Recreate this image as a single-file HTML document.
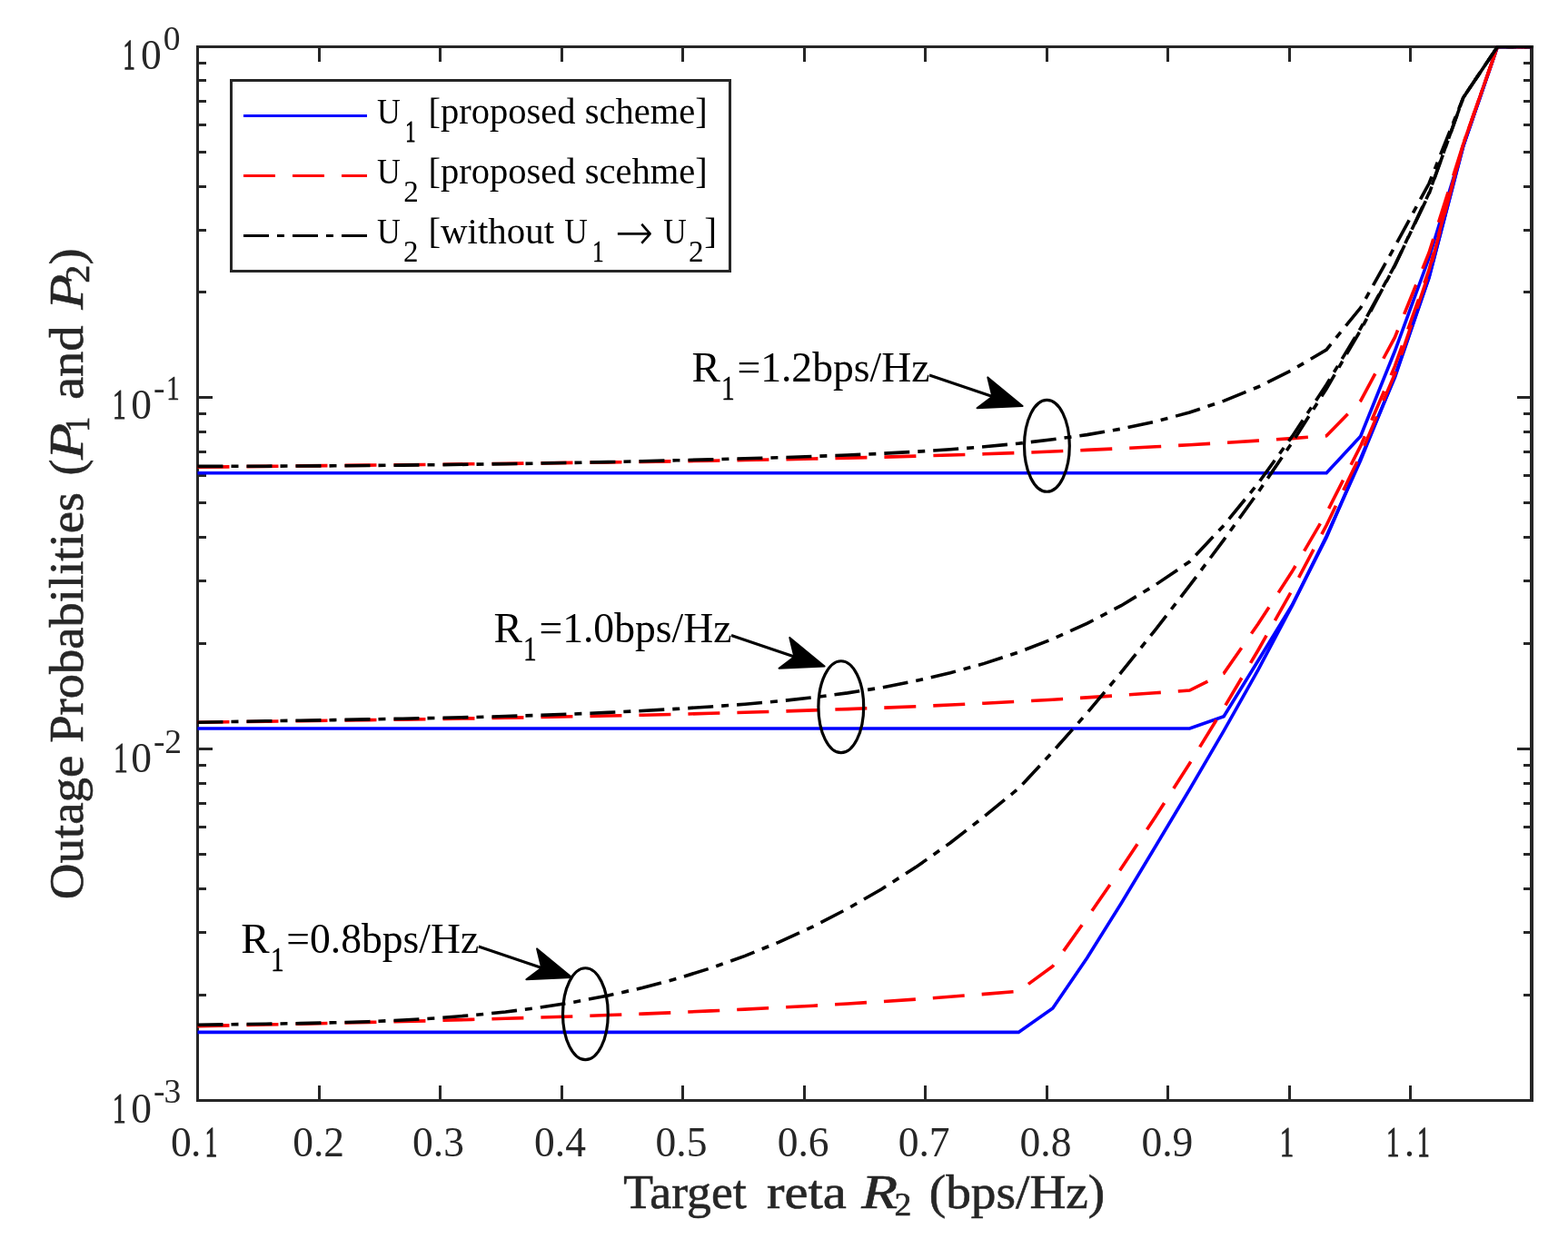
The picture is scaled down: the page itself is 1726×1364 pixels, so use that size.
<!DOCTYPE html>
<html><head><meta charset="utf-8"><title>Outage Probabilities</title>
<style>html,body{margin:0;padding:0;background:#fff;overflow:hidden;width:1726px;height:1364px;}svg{display:block;}</style>
</head><body>
<svg width="1726" height="1364" viewBox="0 0 1726 1364" font-family='"Liberation Serif", "DejaVu Serif", serif'>
<rect width="1726" height="1364" fill="#fff"/>
<defs><clipPath id="pc"><rect x="216" y="50" width="1472" height="1163"/></clipPath></defs>
<rect x="216" y="50" width="3" height="1163" fill="#262626"/>
<rect x="1684" y="50" width="4" height="1163" fill="#262626"/>
<rect x="216" y="50" width="1472" height="3" fill="#262626"/>
<rect x="216" y="1210" width="1472" height="3" fill="#262626"/>
<rect x="350" y="1195" width="3" height="15" fill="#262626"/>
<rect x="350" y="53" width="3" height="15" fill="#262626"/>
<rect x="483" y="1195" width="3" height="15" fill="#262626"/>
<rect x="483" y="53" width="3" height="15" fill="#262626"/>
<rect x="617" y="1195" width="3" height="15" fill="#262626"/>
<rect x="617" y="53" width="3" height="15" fill="#262626"/>
<rect x="750" y="1195" width="3" height="15" fill="#262626"/>
<rect x="750" y="53" width="3" height="15" fill="#262626"/>
<rect x="884" y="1195" width="3" height="15" fill="#262626"/>
<rect x="884" y="53" width="3" height="15" fill="#262626"/>
<rect x="1017" y="1195" width="3" height="15" fill="#262626"/>
<rect x="1017" y="53" width="3" height="15" fill="#262626"/>
<rect x="1151" y="1195" width="3" height="15" fill="#262626"/>
<rect x="1151" y="53" width="3" height="15" fill="#262626"/>
<rect x="1284" y="1195" width="3" height="15" fill="#262626"/>
<rect x="1284" y="53" width="3" height="15" fill="#262626"/>
<rect x="1418" y="1195" width="3" height="15" fill="#262626"/>
<rect x="1418" y="53" width="3" height="15" fill="#262626"/>
<rect x="1551" y="1195" width="3" height="15" fill="#262626"/>
<rect x="1551" y="53" width="3" height="15" fill="#262626"/>
<rect x="219" y="320" width="8" height="3" fill="#262626"/>
<rect x="1677" y="320" width="7" height="3" fill="#262626"/>
<rect x="219" y="252" width="8" height="3" fill="#262626"/>
<rect x="1677" y="252" width="7" height="3" fill="#262626"/>
<rect x="219" y="204" width="8" height="3" fill="#262626"/>
<rect x="1677" y="204" width="7" height="3" fill="#262626"/>
<rect x="219" y="166" width="8" height="3" fill="#262626"/>
<rect x="1677" y="166" width="7" height="3" fill="#262626"/>
<rect x="219" y="136" width="8" height="3" fill="#262626"/>
<rect x="1677" y="136" width="7" height="3" fill="#262626"/>
<rect x="219" y="110" width="8" height="3" fill="#262626"/>
<rect x="1677" y="110" width="7" height="3" fill="#262626"/>
<rect x="219" y="87" width="8" height="3" fill="#262626"/>
<rect x="1677" y="87" width="7" height="3" fill="#262626"/>
<rect x="219" y="68" width="8" height="3" fill="#262626"/>
<rect x="1677" y="68" width="7" height="3" fill="#262626"/>
<rect x="219" y="436" width="15" height="3" fill="#262626"/>
<rect x="1670" y="436" width="14" height="3" fill="#262626"/>
<rect x="219" y="707" width="8" height="3" fill="#262626"/>
<rect x="1677" y="707" width="7" height="3" fill="#262626"/>
<rect x="219" y="638" width="8" height="3" fill="#262626"/>
<rect x="1677" y="638" width="7" height="3" fill="#262626"/>
<rect x="219" y="590" width="8" height="3" fill="#262626"/>
<rect x="1677" y="590" width="7" height="3" fill="#262626"/>
<rect x="219" y="552" width="8" height="3" fill="#262626"/>
<rect x="1677" y="552" width="7" height="3" fill="#262626"/>
<rect x="219" y="522" width="8" height="3" fill="#262626"/>
<rect x="1677" y="522" width="7" height="3" fill="#262626"/>
<rect x="219" y="496" width="8" height="3" fill="#262626"/>
<rect x="1677" y="496" width="7" height="3" fill="#262626"/>
<rect x="219" y="474" width="8" height="3" fill="#262626"/>
<rect x="1677" y="474" width="7" height="3" fill="#262626"/>
<rect x="219" y="454" width="8" height="3" fill="#262626"/>
<rect x="1677" y="454" width="7" height="3" fill="#262626"/>
<rect x="219" y="823" width="15" height="3" fill="#262626"/>
<rect x="1670" y="823" width="14" height="3" fill="#262626"/>
<rect x="219" y="1094" width="8" height="3" fill="#262626"/>
<rect x="1677" y="1094" width="7" height="3" fill="#262626"/>
<rect x="219" y="1025" width="8" height="3" fill="#262626"/>
<rect x="1677" y="1025" width="7" height="3" fill="#262626"/>
<rect x="219" y="977" width="8" height="3" fill="#262626"/>
<rect x="1677" y="977" width="7" height="3" fill="#262626"/>
<rect x="219" y="939" width="8" height="3" fill="#262626"/>
<rect x="1677" y="939" width="7" height="3" fill="#262626"/>
<rect x="219" y="909" width="8" height="3" fill="#262626"/>
<rect x="1677" y="909" width="7" height="3" fill="#262626"/>
<rect x="219" y="883" width="8" height="3" fill="#262626"/>
<rect x="1677" y="883" width="7" height="3" fill="#262626"/>
<rect x="219" y="861" width="8" height="3" fill="#262626"/>
<rect x="1677" y="861" width="7" height="3" fill="#262626"/>
<rect x="219" y="841" width="8" height="3" fill="#262626"/>
<rect x="1677" y="841" width="7" height="3" fill="#262626"/>
<g clip-path="url(#pc)">
<polyline points="217.5,520.8 255.2,520.8 292.8,520.8 330.5,520.8 368.1,520.8 405.8,520.8 443.4,520.8 481.1,520.8 518.7,520.8 556.4,520.8 594.0,520.8 631.7,520.8 669.3,520.8 707.0,520.8 744.7,520.8 782.3,520.8 820.0,520.8 857.6,520.8 895.3,520.8 932.9,520.8 970.6,520.8 1008.2,520.8 1045.9,520.8 1083.5,520.8 1121.2,520.8 1158.8,520.8 1196.5,520.8 1234.2,520.8 1271.8,520.8 1309.5,520.8 1347.1,520.8 1384.8,520.8 1422.4,520.8 1460.1,520.8 1497.7,480.2 1535.4,386.5 1573.0,284.0 1610.7,160.7 1648.3,51.5 1686.0,51.5" fill="none" stroke="#0000ff" stroke-width="3.6" stroke-linejoin="miter" stroke-linecap="butt"/>
<polyline points="217.5,802.0 255.2,802.0 292.8,802.0 330.5,802.0 368.1,802.0 405.8,802.0 443.4,802.0 481.1,802.0 518.7,802.0 556.4,802.0 594.0,802.0 631.7,802.0 669.3,802.0 707.0,802.0 744.7,802.0 782.3,802.0 820.0,802.0 857.6,802.0 895.3,802.0 932.9,802.0 970.6,802.0 1008.2,802.0 1045.9,802.0 1083.5,802.0 1121.2,802.0 1158.8,802.0 1196.5,802.0 1234.2,802.0 1271.8,802.0 1309.5,802.0 1347.1,788.8 1384.8,727.5 1422.4,666.0 1460.1,591.7 1497.7,504.7 1535.4,415.5 1573.0,305.5 1610.7,160.7 1648.3,51.5 1686.0,51.5" fill="none" stroke="#0000ff" stroke-width="3.6" stroke-linejoin="miter" stroke-linecap="butt"/>
<polyline points="217.5,1136.4 255.2,1136.4 292.8,1136.4 330.5,1136.4 368.1,1136.4 405.8,1136.4 443.4,1136.4 481.1,1136.4 518.7,1136.4 556.4,1136.4 594.0,1136.4 631.7,1136.4 669.3,1136.4 707.0,1136.4 744.7,1136.4 782.3,1136.4 820.0,1136.4 857.6,1136.4 895.3,1136.4 932.9,1136.4 970.6,1136.4 1008.2,1136.4 1045.9,1136.4 1083.5,1136.4 1121.2,1136.4 1158.8,1109.9 1196.5,1054.7 1234.2,994.5 1271.8,932.0 1309.5,869.0 1347.1,804.7 1384.8,737.7 1422.4,666.6 1460.1,590.2 1497.7,506.8 1535.4,414.2 1573.0,305.8 1610.7,160.7 1648.3,51.5 1686.0,51.5" fill="none" stroke="#0000ff" stroke-width="3.6" stroke-linejoin="miter" stroke-linecap="butt"/>
<polyline points="217.5,514.3 255.2,513.8 292.8,513.4 330.5,512.9 368.1,512.5 405.8,512.1 443.4,511.7 481.1,511.3 518.7,510.8 556.4,510.4 594.0,509.9 631.7,509.4 669.3,508.9 707.0,508.4 744.7,507.8 782.3,507.2 820.0,506.5 857.6,505.8 895.3,505.0 932.9,504.1 970.6,503.2 1008.2,502.1 1045.9,501.0 1083.5,499.8 1121.2,498.5 1158.8,497.0 1196.5,495.4 1234.2,493.7 1271.8,491.8 1309.5,489.7 1347.1,487.5 1384.8,485.1 1422.4,482.6 1460.1,479.8 1497.7,441.3 1535.4,371.4 1573.0,278.2 1610.7,158.7 1648.3,51.5 1686.0,51.5" fill="none" stroke="#ff0000" stroke-width="3.6" stroke-linejoin="miter" stroke-linecap="butt" stroke-dasharray="35 19"/>
<polyline points="217.5,795.3 255.2,794.7 292.8,794.2 330.5,793.7 368.1,793.2 405.8,792.6 443.4,792.1 481.1,791.5 518.7,790.9 556.4,790.2 594.0,789.5 631.7,788.8 669.3,788.0 707.0,787.2 744.7,786.3 782.3,785.3 820.0,784.3 857.6,783.1 895.3,781.9 932.9,780.6 970.6,779.2 1008.2,777.7 1045.9,776.0 1083.5,774.2 1121.2,772.3 1158.8,770.2 1196.5,767.9 1234.2,765.4 1271.8,762.8 1309.5,760.0 1347.1,741.3 1384.8,687.0 1422.4,629.1 1460.1,564.8 1497.7,490.9 1535.4,403.2 1573.0,297.2 1610.7,158.7 1648.3,51.5 1686.0,51.5" fill="none" stroke="#ff0000" stroke-width="3.6" stroke-linejoin="miter" stroke-linecap="butt" stroke-dasharray="35 19"/>
<polyline points="217.5,1129.7 255.2,1128.8 292.8,1128.0 330.5,1127.2 368.1,1126.3 405.8,1125.4 443.4,1124.5 481.1,1123.5 518.7,1122.4 556.4,1121.3 594.0,1120.1 631.7,1118.9 669.3,1117.5 707.0,1116.1 744.7,1114.6 782.3,1112.9 820.0,1111.1 857.6,1109.2 895.3,1107.2 932.9,1105.0 970.6,1102.6 1008.2,1100.1 1045.9,1097.3 1083.5,1094.4 1121.2,1091.3 1158.8,1063.7 1196.5,1010.7 1234.2,956.0 1271.8,899.3 1309.5,840.5 1347.1,779.5 1384.8,716.0 1422.4,649.5 1460.1,578.3 1497.7,500.4 1535.4,411.6 1573.0,300.3 1610.7,158.7 1648.3,51.5 1686.0,51.5" fill="none" stroke="#ff0000" stroke-width="3.6" stroke-linejoin="miter" stroke-linecap="butt" stroke-dasharray="35 19"/>
<polyline points="217.5,513.4 255.2,513.3 292.8,513.2 330.5,513.0 368.1,512.8 405.8,512.5 443.4,512.1 481.1,511.7 518.7,511.2 556.4,510.7 594.0,510.1 631.7,509.4 669.3,508.6 707.0,507.8 744.7,506.8 782.3,505.9 820.0,504.8 857.6,503.7 895.3,502.4 932.9,501.0 970.6,499.3 1008.2,497.3 1045.9,494.8 1083.5,491.8 1121.2,488.2 1158.8,483.8 1196.5,478.6 1234.2,472.1 1271.8,464.1 1309.5,454.0 1347.1,441.4 1384.8,426.0 1422.4,407.3 1460.1,385.0 1497.7,338.8 1535.4,271.4 1573.0,202.0 1610.7,107.5 1648.3,51.5 1686.0,51.5" fill="none" stroke="#000000" stroke-width="3.6" stroke-linejoin="miter" stroke-linecap="butt" stroke-dasharray="28 9 8 9"/>
<polyline points="217.5,795.2 255.2,794.5 292.8,793.8 330.5,793.2 368.1,792.6 405.8,791.9 443.4,791.2 481.1,790.4 518.7,789.6 556.4,788.5 594.0,787.4 631.7,786.0 669.3,784.4 707.0,782.5 744.7,780.4 782.3,778.0 820.0,775.2 857.6,771.9 895.3,767.8 932.9,762.9 970.6,756.9 1008.2,749.6 1045.9,740.8 1083.5,730.4 1121.2,718.0 1158.8,703.5 1196.5,686.4 1234.2,666.7 1271.8,643.9 1309.5,618.3 1347.1,578.4 1384.8,532.2 1422.4,480.4 1460.1,423.5 1497.7,361.4 1535.4,292.1 1573.0,212.6 1610.7,107.5 1648.3,51.5 1686.0,51.5" fill="none" stroke="#000000" stroke-width="3.6" stroke-linejoin="miter" stroke-linecap="butt" stroke-dasharray="28 9 8 9"/>
<polyline points="217.5,1128.2 255.2,1127.7 292.8,1127.2 330.5,1126.6 368.1,1125.8 405.8,1124.7 443.4,1123.0 481.1,1120.8 518.7,1117.8 556.4,1114.0 594.0,1109.2 631.7,1103.2 669.3,1096.0 707.0,1087.5 744.7,1077.5 782.3,1065.8 820.0,1052.4 857.6,1037.1 895.3,1019.8 932.9,1000.4 970.6,978.7 1008.2,954.6 1045.9,928.0 1083.5,898.8 1121.2,868.0 1158.8,827.6 1196.5,785.0 1234.2,740.2 1271.8,693.4 1309.5,644.7 1347.1,594.4 1384.8,542.1 1422.4,487.1 1460.1,428.0 1497.7,363.5 1535.4,292.4 1573.0,213.5 1610.7,107.5 1648.3,51.5 1686.0,51.5" fill="none" stroke="#000000" stroke-width="3.6" stroke-linejoin="miter" stroke-linecap="butt" stroke-dasharray="28 9 8 9"/>
<rect x="1647" y="50" width="41" height="3" fill="#000"/>
</g>
<line x1="1023.0" y1="413.0" x2="1092.4" y2="436.5" stroke="#000" stroke-width="3"/>
<path d="M1125.6,447.0 L1087.3,415.4 L1092.4,436.5 L1075.5,449.2 Z" fill="#000" stroke="#000" stroke-width="2" stroke-linejoin="round"/>
<ellipse cx="1152.4" cy="490.8" rx="24.9" ry="50.45" fill="none" stroke="#000" stroke-width="3.2"/>
<line x1="805.0" y1="699.5" x2="874.4" y2="723.0" stroke="#000" stroke-width="3"/>
<path d="M907.6,733.5 L869.3,701.9 L874.4,723.0 L857.5,735.7 Z" fill="#000" stroke="#000" stroke-width="2" stroke-linejoin="round"/>
<ellipse cx="925.8" cy="778.2" rx="24.9" ry="50.45" fill="none" stroke="#000" stroke-width="3.2"/>
<line x1="526.8" y1="1042.0" x2="596.2" y2="1065.5" stroke="#000" stroke-width="3"/>
<path d="M629.4,1076.0 L591.1,1044.4 L596.2,1065.5 L579.3,1078.2 Z" fill="#000" stroke="#000" stroke-width="2" stroke-linejoin="round"/>
<ellipse cx="644.4" cy="1116.2" rx="24.9" ry="50.45" fill="none" stroke="#000" stroke-width="3.2"/>
<rect x="254.5" y="88.5" width="549" height="210" fill="#fff" stroke="#262626" stroke-width="3"/>
<line x1="268" y1="127.5" x2="404" y2="127.5" stroke="#0000ff" stroke-width="3"/>
<line x1="268" y1="193.5" x2="404" y2="193.5" stroke="#ff0000" stroke-width="3" stroke-dasharray="35 19"/>
<line x1="268" y1="259.5" x2="404" y2="259.5" stroke="#000" stroke-width="3" stroke-dasharray="28 9 8 9"/>
<text transform="translate(677.1,275.4) scale(1,1.13)" font-size="50.5" font-weight="200" fill="#000" font-family="'DejaVu Sans', sans-serif">&#8594;</text>
<text transform="translate(135.38,75.60) scale(0.5806,1)" font-size="45.5" fill="#262626"  stroke="#262626" stroke-width="1.35">1</text>
<text x="154.93" y="75.60" font-size="45.5" fill="#262626" >0</text>
<text x="179.67" y="54.60" font-size="37.5" fill="#262626" >0</text>
<text transform="translate(124.03,460.60) scale(0.6430,1)" font-size="45.5" fill="#262626"  stroke="#262626" stroke-width="1.03">1</text>
<text x="144.22" y="460.60" font-size="45.5" fill="#262626" >0</text>
<text x="169.09" y="440.20" font-size="37.5" fill="#262626" >-</text>
<text transform="translate(183.25,440.20) scale(0.7726,1)" font-size="37.5" fill="#262626"  stroke="#262626" stroke-width="0.39">1</text>
<text transform="translate(125.00,849.80) scale(0.6992,1)" font-size="45.5" fill="#262626"  stroke="#262626" stroke-width="0.75">1</text>
<text x="144.22" y="849.80" font-size="45.5" fill="#262626" >0</text>
<text x="169.09" y="829.10" font-size="37.5" fill="#262626" >-</text>
<text x="181.34" y="829.10" font-size="37.5" fill="#262626" >2</text>
<text transform="translate(124.03,1235.60) scale(0.6430,1)" font-size="45.5" fill="#262626"  stroke="#262626" stroke-width="1.03">1</text>
<text x="144.22" y="1235.60" font-size="45.5" fill="#262626" >0</text>
<text x="169.09" y="1214.40" font-size="37.5" fill="#262626" >-</text>
<text x="180.56" y="1214.40" font-size="37.5" fill="#262626" >3</text>
<text x="322.15" y="1273.00" font-size="45.5" fill="#262626" >0.2</text>
<text x="454.08" y="1273.00" font-size="45.5" fill="#262626" >0.3</text>
<text x="588.05" y="1273.00" font-size="45.5" fill="#262626" >0.4</text>
<text x="721.58" y="1273.00" font-size="45.5" fill="#262626" >0.5</text>
<text x="855.67" y="1273.00" font-size="45.5" fill="#262626" >0.6</text>
<text x="988.65" y="1273.00" font-size="45.5" fill="#262626" >0.7</text>
<text x="1122.56" y="1273.00" font-size="45.5" fill="#262626" >0.8</text>
<text x="1256.43" y="1273.00" font-size="45.5" fill="#262626" >0.9</text>
<text x="188.07" y="1273.00" font-size="45.5" fill="#262626" >0</text>
<text x="210.11" y="1273.00" font-size="45.5" fill="#262626" >.</text>
<text transform="translate(225.65,1273.00) scale(0.5868,1)" font-size="45.5" fill="#262626"  stroke="#262626" stroke-width="1.32">1</text>
<text transform="translate(1408.78,1273.00) scale(0.6805,1)" font-size="45.5" fill="#262626"  stroke="#262626" stroke-width="0.85">1</text>
<text transform="translate(1526.33,1273.00) scale(0.6180,1)" font-size="45.5" fill="#262626"  stroke="#262626" stroke-width="1.16">1</text>
<text x="1545.76" y="1273.00" font-size="45.5" fill="#262626" >.</text>
<text transform="translate(1560.35,1273.00) scale(0.5868,1)" font-size="45.5" fill="#262626"  stroke="#262626" stroke-width="1.32">1</text>
<text transform="translate(686.33,1330.00) scale(1.0317,1)" font-size="52" fill="#262626" stroke="#262626" stroke-width="0.6">Target</text>
<text transform="translate(844.03,1330.00) scale(1.1277,1)" font-size="52" fill="#262626" stroke="#262626" stroke-width="0.6">reta</text>
<text transform="translate(948.15,1330.00) scale(1.2572,1)" font-size="52" fill="#262626" font-style="italic" stroke="#262626" stroke-width="0.6">R</text>
<text transform="translate(984.54,1337.50) scale(1.0610,1)" font-size="35.5" fill="#262626" stroke="#262626" stroke-width="0.6">2</text>
<text transform="translate(1022.77,1330.00) scale(1.0638,1)" font-size="52" fill="#262626" stroke="#262626" stroke-width="0.6">(bps/Hz)</text>
<g transform="rotate(-90)"><text transform="translate(-990.25,91.30) scale(1.0367,1)" font-size="53" fill="#262626" stroke="#262626" stroke-width="0.6">Outage</text><text transform="translate(-817.87,91.30) scale(1.0303,1)" font-size="53" fill="#262626" stroke="#262626" stroke-width="0.6">Probabilities</text><text transform="translate(-523.46,91.30) scale(1.0138,1)" font-size="53" fill="#262626" stroke="#262626" stroke-width="0.6">(</text><text transform="translate(-505.95,91.30) scale(1.2327,1)" font-size="53" fill="#262626" font-style="italic" stroke="#262626" stroke-width="0.6">P</text><text transform="translate(-475.67,98.20) scale(0.9136,1)" font-size="37" fill="#262626" stroke="#262626" stroke-width="0.6">1</text><text transform="translate(-440.09,91.30) scale(1.0687,1)" font-size="53" fill="#262626" stroke="#262626" stroke-width="0.6">and</text><text transform="translate(-340.86,91.30) scale(1.2008,1)" font-size="53" fill="#262626" font-style="italic" stroke="#262626" stroke-width="0.6">P</text><text transform="translate(-311.86,98.00) scale(1.0855,1)" font-size="37" fill="#262626" stroke="#262626" stroke-width="0.6">2</text><text transform="translate(-291.54,91.30) scale(1.0211,1)" font-size="53" fill="#262626" stroke="#262626" stroke-width="0.6">)</text></g>
<text transform="translate(415.05,136.10) scale(0.8714,1)" font-size="41" fill="#000" >U</text>
<text transform="translate(446.23,156.10) scale(0.6800,1)" font-size="33" fill="#000"  stroke="#000" stroke-width="0.85">1</text>
<text transform="translate(471.49,136.10) scale(0.9894,1)" font-size="41" fill="#000" >[proposed scheme]</text>
<text transform="translate(415.05,202.00) scale(0.8714,1)" font-size="41" fill="#000" >U</text>
<text x="444.14" y="222.00" font-size="33" fill="#000" >2</text>
<text transform="translate(471.49,202.00) scale(0.9894,1)" font-size="41" fill="#000" >[proposed scehme]</text>
<text transform="translate(415.05,267.70) scale(0.8714,1)" font-size="41" fill="#000" >U</text>
<text x="443.94" y="287.70" font-size="33" fill="#000" >2</text>
<text transform="translate(471.46,267.70) scale(0.9974,1)" font-size="41" fill="#000" >[without</text>
<text transform="translate(621.26,267.70) scale(0.8642,1)" font-size="41" fill="#000" >U</text>
<text transform="translate(652.33,287.70) scale(0.7489,1)" font-size="33" fill="#000"  stroke="#000" stroke-width="0.51">1</text>
<text transform="translate(730.26,267.70) scale(0.8606,1)" font-size="41" fill="#000" >U</text>
<text x="757.94" y="287.70" font-size="33" fill="#000" >2</text>
<text transform="translate(775.19,267.70) scale(1.0187,1)" font-size="41" fill="#000" >]</text>
<text transform="translate(761.44,420.40) scale(1.0243,1)" font-size="46" fill="#000" >R</text>
<text transform="translate(794.10,440.00) scale(0.7774,1)" font-size="38" fill="#000"  stroke="#000" stroke-width="0.36">1</text>
<text transform="translate(811.43,420.40) scale(0.9920,1)" font-size="46" fill="#000" >=1.2bps/Hz</text>
<text transform="translate(543.44,706.90) scale(1.0243,1)" font-size="46" fill="#000" >R</text>
<text transform="translate(576.10,726.50) scale(0.7774,1)" font-size="38" fill="#000"  stroke="#000" stroke-width="0.36">1</text>
<text transform="translate(593.43,706.90) scale(0.9920,1)" font-size="46" fill="#000" >=1.0bps/Hz</text>
<text transform="translate(265.24,1049.40) scale(1.0243,1)" font-size="46" fill="#000" >R</text>
<text transform="translate(297.90,1069.00) scale(0.7774,1)" font-size="38" fill="#000"  stroke="#000" stroke-width="0.36">1</text>
<text transform="translate(315.23,1049.40) scale(0.9920,1)" font-size="46" fill="#000" >=0.8bps/Hz</text>
</svg>
</body></html>
